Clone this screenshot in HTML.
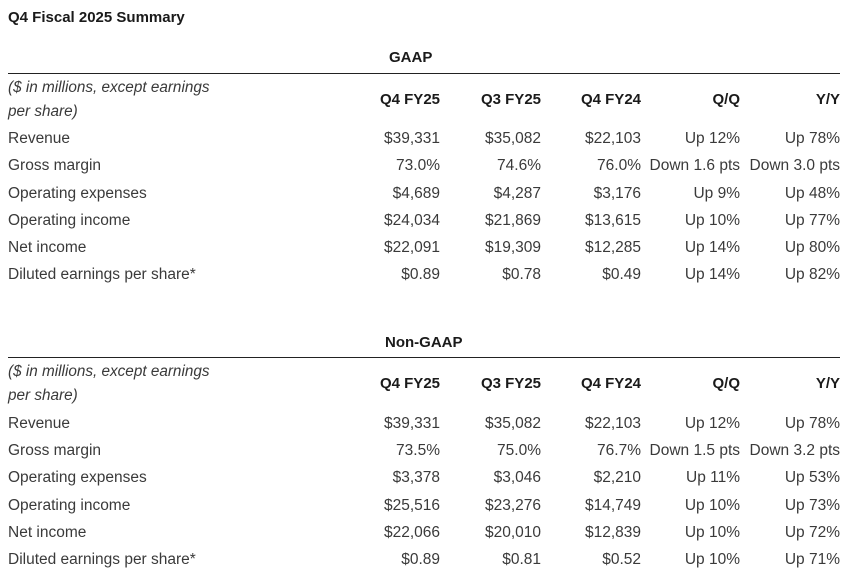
<!DOCTYPE html>
<html><head><meta charset="utf-8"><style>
body{margin:0;width:849px;height:584px;background:#fff;font-family:"Liberation Sans",sans-serif;color:#3a3a3a;position:relative;overflow:hidden}
div{position:absolute;white-space:nowrap;line-height:18px}
.t{font-size:15.5px}
.b{font-weight:bold;color:#1a1a1a;font-size:15px}
.i{font-style:italic;font-size:15.3px}
.r{text-align:right;width:140px;font-size:15.5px}
.rb{text-align:right;width:140px;font-size:15px;font-weight:bold;color:#1a1a1a}
.line{height:1px;background:#222;left:8px;width:832px}
</style></head><body>
<div class="b" style="left:8px;top:9px">Q4 Fiscal 2025 Summary</div>
<div class="b" style="left:389px;top:49px">GAAP</div>
<div class="line" style="top:73px"></div>
<div class="i" style="left:8px;top:79px">($ in millions, except earnings</div>
<div class="i" style="left:8px;top:103px">per share)</div>
<div class="rb" style="left:300px;top:91px">Q4 FY25</div>
<div class="rb" style="left:401px;top:91px">Q3 FY25</div>
<div class="rb" style="left:501px;top:91px">Q4 FY24</div>
<div class="rb" style="left:600px;top:91px">Q/Q</div>
<div class="rb" style="left:700px;top:91px">Y/Y</div>

<div class="t" style="left:8px;top:130px">Revenue</div>
<div class="r" style="left:300px;top:130px">$39,331</div><div class="r" style="left:401px;top:130px">$35,082</div><div class="r" style="left:501px;top:130px">$22,103</div><div class="r" style="left:600px;top:130px">Up 12%</div><div class="r" style="left:700px;top:130px">Up 78%</div>
<div class="t" style="left:8px;top:157px">Gross margin</div>
<div class="r" style="left:300px;top:157px">73.0%</div><div class="r" style="left:401px;top:157px">74.6%</div><div class="r" style="left:501px;top:157px">76.0%</div><div class="r" style="left:600px;top:157px">Down 1.6 pts</div><div class="r" style="left:700px;top:157px">Down 3.0 pts</div>
<div class="t" style="left:8px;top:185px">Operating expenses</div>
<div class="r" style="left:300px;top:185px">$4,689</div><div class="r" style="left:401px;top:185px">$4,287</div><div class="r" style="left:501px;top:185px">$3,176</div><div class="r" style="left:600px;top:185px">Up 9%</div><div class="r" style="left:700px;top:185px">Up 48%</div>
<div class="t" style="left:8px;top:212px">Operating income</div>
<div class="r" style="left:300px;top:212px">$24,034</div><div class="r" style="left:401px;top:212px">$21,869</div><div class="r" style="left:501px;top:212px">$13,615</div><div class="r" style="left:600px;top:212px">Up 10%</div><div class="r" style="left:700px;top:212px">Up 77%</div>
<div class="t" style="left:8px;top:239px">Net income</div>
<div class="r" style="left:300px;top:239px">$22,091</div><div class="r" style="left:401px;top:239px">$19,309</div><div class="r" style="left:501px;top:239px">$12,285</div><div class="r" style="left:600px;top:239px">Up 14%</div><div class="r" style="left:700px;top:239px">Up 80%</div>
<div class="t" style="left:8px;top:266px">Diluted earnings per share*</div>
<div class="r" style="left:300px;top:266px">$0.89</div><div class="r" style="left:401px;top:266px">$0.78</div><div class="r" style="left:501px;top:266px">$0.49</div><div class="r" style="left:600px;top:266px">Up 14%</div><div class="r" style="left:700px;top:266px">Up 82%</div>

<div class="b" style="left:385px;top:334px">Non-GAAP</div>
<div class="line" style="top:357px"></div>
<div class="i" style="left:8px;top:363px">($ in millions, except earnings</div>
<div class="i" style="left:8px;top:387px">per share)</div>
<div class="rb" style="left:300px;top:375px">Q4 FY25</div>
<div class="rb" style="left:401px;top:375px">Q3 FY25</div>
<div class="rb" style="left:501px;top:375px">Q4 FY24</div>
<div class="rb" style="left:600px;top:375px">Q/Q</div>
<div class="rb" style="left:700px;top:375px">Y/Y</div>

<div class="t" style="left:8px;top:415px">Revenue</div>
<div class="r" style="left:300px;top:415px">$39,331</div><div class="r" style="left:401px;top:415px">$35,082</div><div class="r" style="left:501px;top:415px">$22,103</div><div class="r" style="left:600px;top:415px">Up 12%</div><div class="r" style="left:700px;top:415px">Up 78%</div>
<div class="t" style="left:8px;top:442px">Gross margin</div>
<div class="r" style="left:300px;top:442px">73.5%</div><div class="r" style="left:401px;top:442px">75.0%</div><div class="r" style="left:501px;top:442px">76.7%</div><div class="r" style="left:600px;top:442px">Down 1.5 pts</div><div class="r" style="left:700px;top:442px">Down 3.2 pts</div>
<div class="t" style="left:8px;top:469px">Operating expenses</div>
<div class="r" style="left:300px;top:469px">$3,378</div><div class="r" style="left:401px;top:469px">$3,046</div><div class="r" style="left:501px;top:469px">$2,210</div><div class="r" style="left:600px;top:469px">Up 11%</div><div class="r" style="left:700px;top:469px">Up 53%</div>
<div class="t" style="left:8px;top:497px">Operating income</div>
<div class="r" style="left:300px;top:497px">$25,516</div><div class="r" style="left:401px;top:497px">$23,276</div><div class="r" style="left:501px;top:497px">$14,749</div><div class="r" style="left:600px;top:497px">Up 10%</div><div class="r" style="left:700px;top:497px">Up 73%</div>
<div class="t" style="left:8px;top:524px">Net income</div>
<div class="r" style="left:300px;top:524px">$22,066</div><div class="r" style="left:401px;top:524px">$20,010</div><div class="r" style="left:501px;top:524px">$12,839</div><div class="r" style="left:600px;top:524px">Up 10%</div><div class="r" style="left:700px;top:524px">Up 72%</div>
<div class="t" style="left:8px;top:551px">Diluted earnings per share*</div>
<div class="r" style="left:300px;top:551px">$0.89</div><div class="r" style="left:401px;top:551px">$0.81</div><div class="r" style="left:501px;top:551px">$0.52</div><div class="r" style="left:600px;top:551px">Up 10%</div><div class="r" style="left:700px;top:551px">Up 71%</div>
</body></html>
